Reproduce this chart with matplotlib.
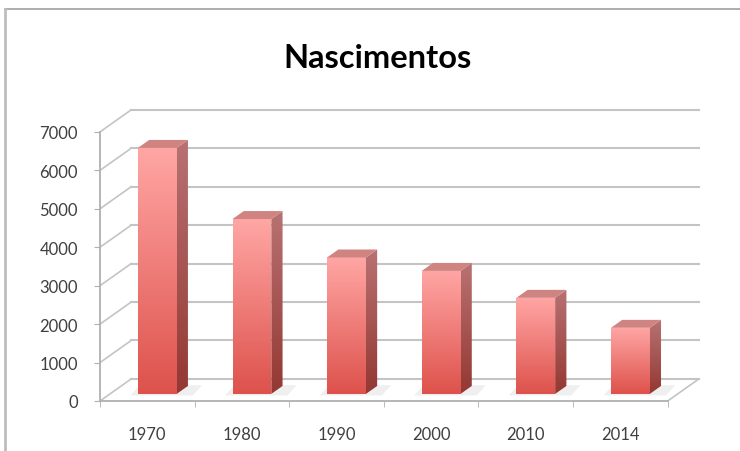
import matplotlib.pyplot as plt
import numpy as np
from matplotlib.patches import Polygon
from matplotlib.colors import LinearSegmentedColormap

# data
anos = ['1970', '1980', '1990', '2000', '2010', '2014']
nascimentos = [6400, 4550, 3550, 3200, 2500, 1720]
yticks = [0, 1000, 2000, 3000, 4000, 5000, 6000, 7000]

# fake 3d geometry (in data units)
DX, DY = 0.33, 575        # depth of the walls
BW = 0.41                 # bar width
D0, D1 = 0.32, 0.68       # depth range of the bars
grid_c = '#c4c4c4'
text_c = '#404040'

front_cmap = LinearSegmentedColormap.from_list('front', ['#de524c', '#ffa6a4'])
side_cmap = LinearSegmentedColormap.from_list('side', ['#943833', '#b87272'])

fig = plt.figure(figsize=(7.4, 4.52), dpi=100)
ax = fig.add_axes([100 / 740, 50 / 452, 615 / 740, 296 / 452])
ax.set_xlim(0, 6.5)
ax.set_ylim(0, 7700)

# outer chart border
fig.add_artist(plt.Line2D([5 / 740, 1], [1 - 10 / 452, 1 - 10 / 452], color='#a0a0a0', lw=1.2))
fig.add_artist(plt.Line2D([5 / 740, 5 / 740], [0, 1 - 10 / 452], color='#bdbdbd', lw=2))

fig.text(377 / 740, 1 - 58 / 452, 'Nascimentos', ha='center', va='center',
         fontsize=23.5, fontweight='bold', family='Lato', color='#000000')

# back wall gridlines + left wall diagonals
for v in yticks:
    ax.plot([DX, 6 + DX], [v + DY, v + DY], color=grid_c, lw=1.5, zorder=1)
    ax.plot([0, DX], [v, v + DY], color=grid_c, lw=1.2, zorder=1)
# floor right edge
ax.plot([6, 6 + DX], [0, DY], color=grid_c, lw=1.2, zorder=1)

# bars
for i, val in enumerate(nascimentos):
    x0 = i + 0.5 - BW / 2 + D0 * DX
    x1 = x0 + BW
    b0 = D0 * DY
    ddx = (D1 - D0) * DX
    ddy = (D1 - D0) * DY
    top = b0 + val

    # soft floor shadow
    sh = Polygon([(x0 - 0.08, b0 - 40), (x1 + ddx + 0.05, b0 - 40),
                  (x1 + ddx + 0.15, b0 + ddy + 20), (x0 + 0.02, b0 + ddy + 20)],
                 closed=True, facecolor='#efefef', edgecolor='none', zorder=2)
    ax.add_patch(sh)

    front = Polygon([(x0, b0), (x1, b0), (x1, top), (x0, top)], closed=True,
                    facecolor='none', edgecolor='none', zorder=3)
    ax.add_patch(front)
    im = ax.imshow(np.linspace(0, 1, 100).reshape(-1, 1), cmap=front_cmap, origin='lower',
                   extent=[x0, x1, b0, top], aspect='auto', zorder=3)
    im.set_clip_path(front)

    side = Polygon([(x1, b0), (x1 + ddx, b0 + ddy), (x1 + ddx, top + ddy), (x1, top)],
                   closed=True, facecolor='none', edgecolor='none', zorder=3)
    ax.add_patch(side)
    im2 = ax.imshow(np.linspace(0, 1, 100).reshape(-1, 1), cmap=side_cmap, origin='lower',
                    extent=[x1, x1 + ddx, b0, top + ddy], aspect='auto', zorder=3)
    im2.set_clip_path(side)

    topf = Polygon([(x0, top), (x1, top), (x1 + ddx, top + ddy), (x0 + ddx, top + ddy)],
                   closed=True, facecolor='#cf8482', edgecolor='none', zorder=4)
    ax.add_patch(topf)

ax.set_xlim(0, 6.5)
ax.set_ylim(0, 7700)

# axes
for s in ['top', 'right']:
    ax.spines[s].set_visible(False)
ax.spines['left'].set_bounds(0, 7000)
ax.spines['bottom'].set_bounds(0, 6)
for s in ['left', 'bottom']:
    ax.spines[s].set_color('#b0b0b0')
    ax.spines[s].set_linewidth(1.3)
    ax.spines[s].set_zorder(5)

ax.set_yticks(yticks)
ax.set_yticklabels([str(v) for v in yticks], family='Lato', fontsize=12, color=text_c)
ax.tick_params(axis='y', length=4, color='#b0b0b0', pad=12)

ax.set_xticks(np.arange(6) + 0.5)
ax.set_xticklabels(anos, family='Lato', fontsize=12, color=text_c)
ax.set_xticks(np.arange(7), minor=True)
ax.tick_params(axis='x', which='major', length=0, pad=18)
ax.tick_params(axis='x', which='minor', length=4, color='#b0b0b0')

fig.savefig('out.png', dpi=100)
